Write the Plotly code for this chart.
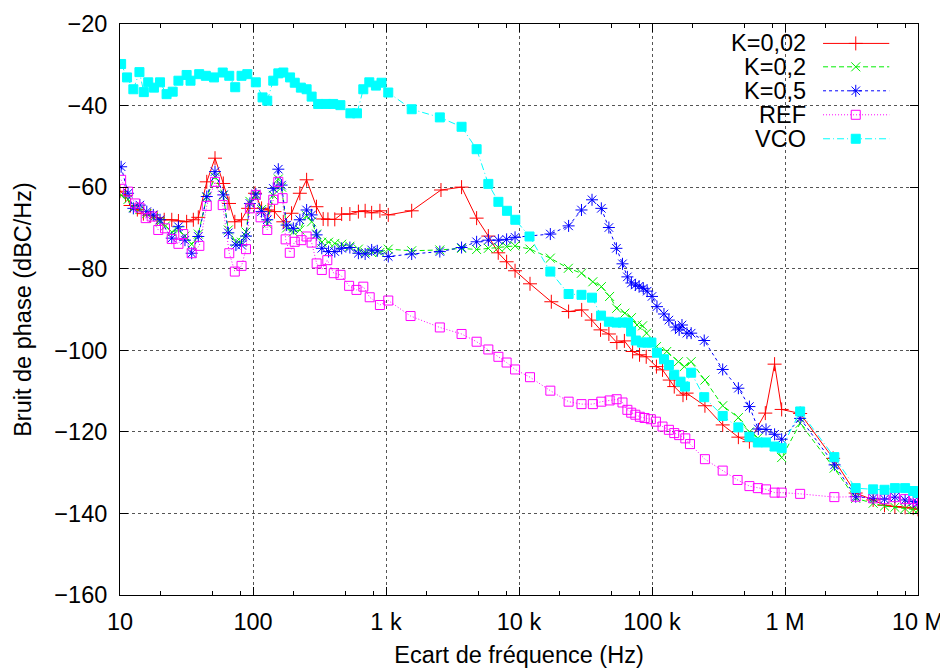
import plotly.graph_objects as go
import numpy as np

# ---------------- DATA ----------------
series_names = ["K=0,02", "K=0,2", "K=0,5", "REF", "VCO"]

k002_f = [10, 11, 12, 13.5, 15, 17, 19, 21.5, 24.5, 27.5, 31.7, 35.6, 38.8, 44.9, 51.8, 59.8, 66, 73, 82, 92,
          103.5, 116, 130, 145, 169, 195, 225, 253, 300, 337, 366, 412, 464, 535, 620, 697, 780, 900, 1040,
          1560, 2590, 3700, 4800, 5880, 6980, 8070, 9340, 12100, 17500, 23600, 29600, 35200, 41000, 47400,
          54400, 62000, 71500, 80600, 90500, 108000, 120000, 136000, 147000, 171000, 182000, 250000, 340000,
          446000, 540000, 711000, 835000, 944000, 1300000, 2300000, 3400000, 4600000, 5600000, 6700000,
          8000000, 9200000, 10000000]
k002_v = [-61, -62, -64.5, -65.5, -66.5, -67, -67.5, -68, -68, -68.3, -68.5, -68, -67.4, -58.7, -52.9, -59.1,
          -64, -68.5, -68, -65.2, -61.5, -65.2, -65.6, -66, -68.5, -66.4, -61.5, -58.2, -64.8, -67.8, -67.9,
          -67.9, -66.6, -66.6, -66, -65.8, -66.3, -65.8, -66.8, -65.8, -60.7, -60, -67.6, -72, -76.1, -78.3,
          -80.5, -83.7, -88.1, -90.5, -90.1, -92.6, -95, -96, -98.1, -97.7, -100.3, -101.1, -101.6, -104,
          -104.8, -107.3, -108.9, -111, -110.5, -113.6, -118.3, -121.3, -122.4, -115.4, -103.4, -114.5,
          -115.5, -126.5, -135, -136.7, -138, -138.3, -138.5, -138.7, -139]

k02_f = [10.2, 11.5, 12.6, 14.1, 15.9, 17.8, 20, 22, 24.5, 27.5, 30.8, 34.6, 38.8, 44.9, 51.8, 59.8, 65.2,
         74.4, 82, 88.6, 94.8, 105, 116, 128, 142, 155, 164, 179, 201, 225, 253, 276, 301, 329, 370, 412,
         464, 535, 620, 697, 780, 900, 1040, 1560, 2540, 3700, 4800, 5880, 7000, 8070, 9340, 12100, 17200,
         23500, 29500, 35900, 41600, 48000, 54300, 62500, 70000, 77100, 85000, 91000, 108000, 129000,
         158000, 175000, 197000, 250000, 340000, 446000, 540000, 625000, 720000, 835000, 944000, 1300000,
         2340000, 3400000, 4600000, 5600000, 6700000, 8000000, 9200000, 10000000]
k02_v = [-62, -63, -65, -65.5, -66.5, -67.5, -68.5, -69.5, -71, -70.5, -72, -74, -71.5, -62.5, -57.5, -62,
         -70.5, -73.5, -73.5, -71, -63.5, -62, -65.5, -69, -62, -58, -60, -70, -71, -70.5, -67, -68.5,
         -71.5, -73.5, -73.5, -73.8, -74, -74.5, -75.2, -76, -76, -76, -75.2, -75.6, -75.4, -75, -75.3,
         -75, -74.8, -74.6, -74.4, -75.2, -77.4, -79.9, -81.1, -83.2, -84.4, -86.8, -89.7, -90.9, -92,
         -93.8, -94, -95.8, -99.1, -100.3, -102.8, -104, -102.8, -107.3, -113.6, -116.5, -120, -121.5,
         -122.5, -123.5, -126.3, -117.9, -128.9, -136.3, -137.5, -138.2, -138.5, -138.8, -139, -139.2]

k05_f = [10.2, 11.5, 12.6, 14.1, 15.9, 17.8, 20, 24.5, 27.5, 30.8, 34.6, 38.8, 44.9, 51.8, 59.8, 65.2,
         74.4, 82, 88.6, 94.8, 105, 116, 128, 142, 155, 164, 179, 201, 225, 253, 276, 301, 329, 370, 412,
         464, 535, 620, 697, 780, 860, 1040, 1560, 2540, 3700, 4800, 5880, 7000, 8070, 9340, 17200, 23600,
         29500, 35400, 41600, 47400, 54000, 60000, 65300, 70000, 75000, 80000, 86000, 92000, 100000,
         109000, 123000, 134000, 150000, 160000, 168000, 183000, 197000, 247000, 340000, 446000, 540000,
         630000, 720000, 835000, 944000, 1300000, 2360000, 3400000, 4600000, 5600000, 6700000, 8000000,
         9200000, 10000000]
k05_v = [-55, -61.5, -65.2, -64.4, -66, -66.8, -68, -72.5, -69.7, -73, -76.2, -72.1, -62.3, -56.2, -61.9,
         -71.2, -74.2, -74.2, -72, -64, -61.7, -66, -68, -60.3, -55.6, -59.5, -69.3, -70.1, -68, -65.6,
         -66.8, -71.7, -75, -75.8, -75.8, -75, -74.8, -76.2, -76.4, -75.4, -75.6, -77, -76.4, -75.8,
         -74.8, -73.4, -73, -73, -72.8, -72.3, -71.5, -69.5, -65.6, -63.1, -65.2, -69.9, -75, -78.8, -82,
         -83.5, -84, -84.3, -84.8, -85.5, -86.8, -89.3, -91.1, -92.6, -94.3, -95, -93.8, -95.8, -95.8,
         -97.6, -104.7, -109.3, -113.8, -119.3, -119.4, -120.6, -121.8, -116.7, -128.1, -135.9, -136.3,
         -136.5, -136, -136.7, -137.1, -137.5]

ref_f = [10.2, 11.5, 13, 14, 15.6, 17.3, 19.4, 21.8, 24.5, 27.5, 29.9, 34.6, 39.5, 44.9, 51.8, 59.2, 66.3,
         73, 82, 88.6, 94.8, 105, 114, 128, 142, 155, 167, 176, 189, 206, 231, 253, 276, 301, 329, 362,
         405, 455, 528, 600, 675, 754, 900, 1040, 1530, 2540, 3700, 4800, 5880, 7000, 8070, 9340, 12100,
         17200, 23600, 29500, 35900, 41600, 48000, 54200, 60000, 65300, 69800, 75000, 81000, 88000, 98000,
         107000, 120000, 134000, 147000, 160000, 178000, 193000, 250000, 340000, 440000, 540000, 625000,
         720000, 835000, 944000, 1300000, 2350000, 3400000, 4600000, 5600000, 6700000, 8000000, 9200000,
         10000000]
ref_v = [-58.2, -61.1, -64, -65, -67.6, -67.2, -70.5, -70.1, -72.7, -73.9, -71.5, -76.2, -74.4, -64.6,
         -58.7, -64.4, -76.2, -80.7, -79.3, -75.2, -65.2, -61.9, -67.4, -70.5, -63.1, -58.7, -62.7, -72.8,
         -76.1, -73.4, -73, -72.1, -73.6, -78.7, -80.3, -77.9, -81.1, -81.5, -84.2, -85.2, -84.4, -87,
         -88.9, -87.8, -91.6, -94.4, -96, -97.9, -99.8, -101.6, -103, -104.7, -106.6, -109.9, -112.6,
         -113.2, -113.2, -112.6, -112.3, -112, -112.8, -114.6, -115.3, -115.8, -116.3, -116.6, -116.9,
         -117.5, -118.7, -119.5, -120.3, -120.8, -121.6, -123, -126.7, -129.5, -131.8, -133.3, -133.8,
         -134.1, -134.9, -134.9, -135.2, -136, -135.9, -136.3, -136.5, -136, -136.5, -136.5, -137]

vco_f = [10.2, 11.3, 12.6, 14, 15.1, 16.3, 18, 20, 22.4, 24.9, 27.5, 31.7, 33.9, 39.4, 44.2, 50.9, 59.2,
         66.3, 73.5, 82, 90.6, 105, 118, 128, 142, 155, 169, 190, 206, 229, 253, 276, 309, 354, 401, 454,
         540, 605, 675, 749, 840, 925, 1040, 1560, 2540, 3700, 4800, 5880, 7000, 8120, 9380, 12000, 17200,
         23600, 29500, 35400, 41400, 47400, 54000, 60000, 66100, 69600, 75600, 84000, 92000, 99000, 109000,
         123000, 134000, 147000, 164000, 177000, 197000, 247000, 340000, 446000, 540000, 625000, 720000,
         835000, 944000, 1300000, 2350000, 3400000, 4600000, 5600000, 6700000, 8000000, 9200000, 10000000]
vco_v = [-29.8, -33.1, -36, -31.8, -36.7, -34.3, -35.6, -34.3, -37.2, -36.6, -33.9, -32.5, -33.9, -32.3,
         -32.7, -33.1, -31.9, -32.7, -35.5, -32.7, -32.3, -34.3, -38, -38.8, -33.9, -32.1, -31.9, -33.1,
         -34.4, -35.6, -36, -37.8, -39.6, -39.6, -39.6, -39.9, -41.9, -41.9, -36, -34.3, -35.1, -34.4,
         -36.8, -40.9, -42.9, -45.2, -50.7, -59.2, -63.6, -65.8, -68, -72.1, -80.7, -86.2, -86.4, -87.1,
         -91.5, -93, -93.2, -93.2, -93.2, -95.4, -97.6, -98.1, -98.1, -98.1, -100.6, -102.2, -103.6, -106,
         -107.7, -108.9, -105.5, -111.5, -116.1, -118.9, -121.2, -122.6, -122.6, -123.6, -124, -115,
         -126.2, -133.8, -134.1, -134.2, -133.8, -133.8, -134.5, -135]

x_tickvals = [10, 100, 1e3, 1e4, 1e5, 1e6, 1e7]
x_ticktext = ["10", "100", "1 k", "10 k", "100 k", "1 M", "10 M"]
y_tickvals = [-20, -40, -60, -80, -100, -120, -140, -160]

# ---------------- STYLE ----------------
FONT = "Liberation Sans, Arial, sans-serif"
FS = 23.5
styles = [
    dict(color="#ff0000", dash="solid", symbol="cross-thin-open", size=10),
    dict(color="#00ee00", dash="5px,3px", symbol="x-thin-open", size=9),
    dict(color="#0000ff", dash="3px,3px", symbol="asterisk-open", size=10),
    dict(color="#ff00ff", dash="1px,2px", symbol="square-open", size=9),
    dict(color="#00ffff", dash="7px,3px,1px,3px", symbol="square", size=9),
]
all_f = [k002_f, k02_f, k05_f, ref_f, vco_f]
all_v = [k002_v, k02_v, k05_v, ref_v, vco_v]

fig = go.Figure()
for name, fx, vy, st in zip(series_names, all_f, all_v, styles):
    fig.add_trace(go.Scatter(
        x=fx, y=vy, mode="lines+markers", name=name, showlegend=False,
        line=dict(color=st["color"], width=1, dash=st["dash"]),
        marker=dict(symbol=st["symbol"], size=st["size"], color=st["color"],
                    line=dict(color=st["color"], width=1)),
    ))

# custom gnuplot-style key (text on the left, sample on the right)
rows = [0.966, 0.925, 0.883, 0.841, 0.799]
key_text_x = 0.862
key_x0, key_x1, key_xm = 0.881, 0.964, 0.922
shapes = [dict(type="rect", xref="paper", yref="paper", x0=0.756, x1=0.981, y0=0.775, y1=0.998,
               fillcolor="white", line=dict(width=0), layer="between")]
annotations = []
for name, st, ry in zip(series_names, styles, rows):
    shapes.append(dict(type="line", xref="paper", yref="paper", x0=key_x0, x1=key_x1, y0=ry, y1=ry,
                       line=dict(color=st["color"], width=1, dash=st["dash"])))
    annotations.append(dict(text=name, xref="paper", yref="paper", x=key_text_x, y=ry,
                            xanchor="right", yanchor="middle", showarrow=False,
                            font=dict(family=FONT, size=FS, color="black")))
    fig.add_trace(go.Scatter(
        x=[key_xm], y=[ry], xaxis="x2", yaxis="y2", mode="markers", showlegend=False, hoverinfo="skip",
        marker=dict(symbol=st["symbol"], size=st["size"], color=st["color"],
                    line=dict(color=st["color"], width=1)),
    ))

minor_vals = []
for d in range(1, 7):
    for m in (2, 5, 8):
        minor_vals.append(m * 10 ** d)

# page body has an 8px default margin: compensate so the plot area sits at x 120-918, y 24-595
fig.update_layout(
    width=940, height=660,
    margin=dict(l=112, r=30, t=16, b=73),
    paper_bgcolor="white", plot_bgcolor="white",
    font=dict(family=FONT, size=FS, color="black"),
    showlegend=False,
    shapes=shapes, annotations=annotations,
    xaxis=dict(type="log", range=[1, 7], tickvals=x_tickvals, ticktext=x_ticktext, automargin=False,
               ticks="inside", ticklen=8, tickcolor="black", showline=True, linecolor="black",
               linewidth=1, mirror="ticks", showgrid=True, gridcolor="#555555", griddash="dot",
               gridwidth=1, zeroline=False, tickfont=dict(size=FS), ticklabelstandoff=6,
               minor=dict(tickvals=minor_vals, ticks="inside", ticklen=4, tickcolor="black",
                          showgrid=False),
               title=dict(text="Ecart de fréquence (Hz)", font=dict(size=FS), standoff=12)),
    yaxis=dict(range=[-160, -20], tickvals=y_tickvals, ticks="inside", ticklen=8, tickcolor="black",
               showline=True, linecolor="black", linewidth=1, mirror="ticks", showgrid=True,
               gridcolor="#555555", griddash="dot", gridwidth=1, zeroline=False, tickfont=dict(size=FS),
               automargin=False, ticklabelstandoff=7,
               title=dict(text="Bruit de phase (dBC/Hz)", font=dict(size=FS), standoff=16)),
    xaxis2=dict(overlaying="x", range=[0, 1], visible=False, fixedrange=True),
    yaxis2=dict(overlaying="y", range=[0, 1], visible=False, fixedrange=True),
)

fig.write_html("out.html")
